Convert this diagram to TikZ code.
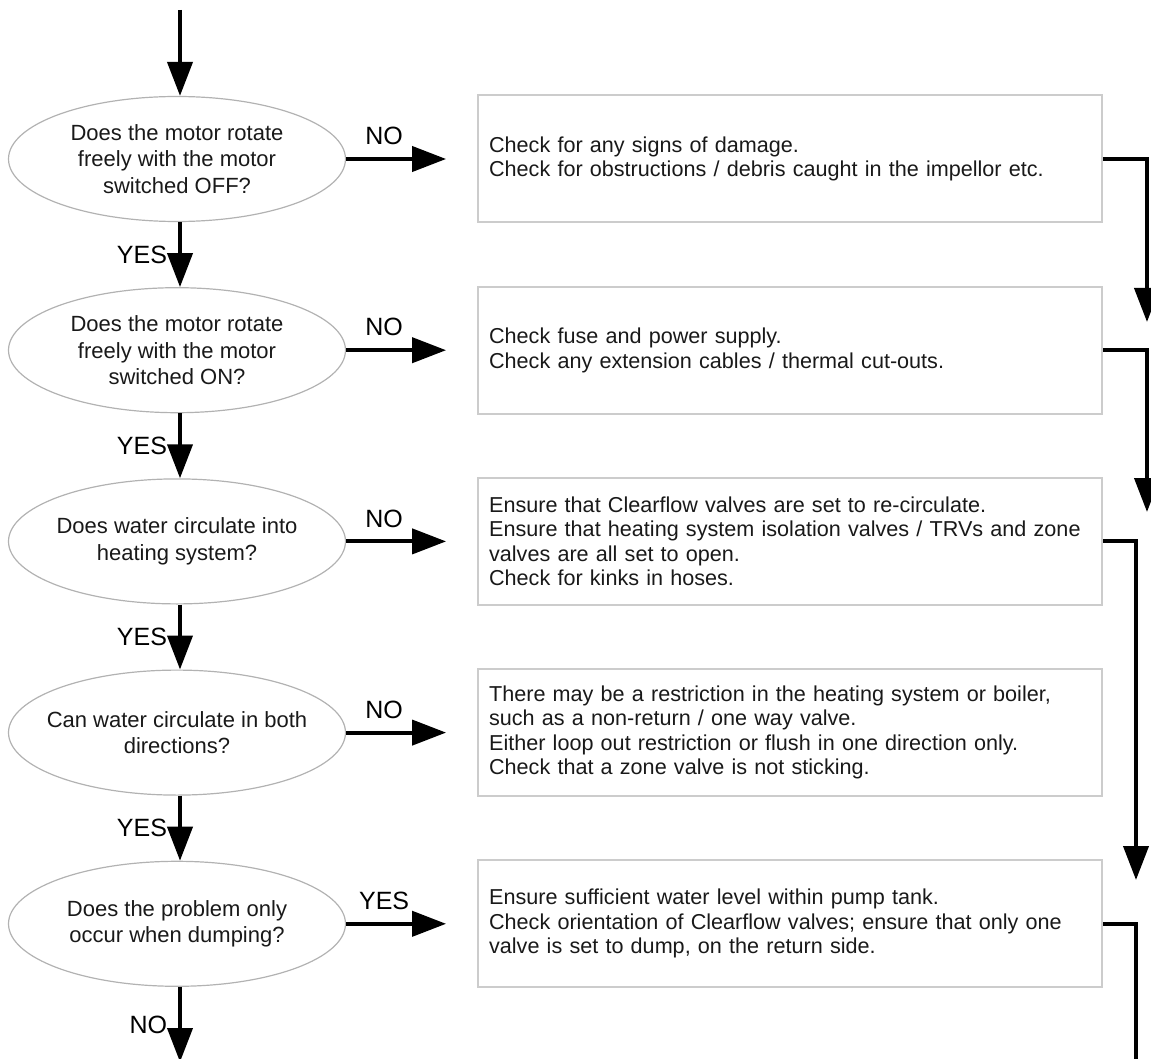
\documentclass[tikz,border=0pt]{standalone}
\usepackage{fontspec}
\setmainfont{Liberation Sans}
\usepackage{tikz}
\usetikzlibrary{arrows.meta,positioning,shapes.geometric}

\begin{document}
\begin{tikzpicture}[
  x=1pt, y=-1pt,
  node distance=65pt and 131pt,
  >={Triangle[length=34pt,width=25pt]},
  font=\fontsize{21.6}{24.5}\selectfont,
  quest/.style={ellipse, draw=gray!60, line width=1.2pt, text=black!90, minimum width=337pt, minimum height=125pt, inner xsep=-45pt, inner ysep=0pt, align=center, font=\fontsize{22}{26.5}\selectfont},
  act/.style={rectangle, draw=gray!40, line width=2pt, text=black!90, minimum height=127pt, text width=602pt, inner xsep=11pt, align=left},
  arr/.style={->, line width=4pt},
  lbl/.style={text=black, inner sep=3pt, font=\fontsize{25}{28}\selectfont}
]
\useasboundingbox (0,0) rectangle (1151,1059);

% Questions
\node[quest] (rotoff) at (177,159) {Does the motor rotate\\freely with the motor\\switched OFF?};
\node[quest, below=of rotoff] (roton) {Does the motor rotate\\freely with the motor\\switched ON?};
\node[quest, below=of roton] (circ) {Does water circulate into\\heating system?};
\node[quest, below=of circ] (both) {Can water circulate in both\\directions?};
\node[quest, below=of both] (dump) {Does the problem only\\occur when dumping?};

% Actions
\node[act, right=of rotoff] (damage) {Check for any signs of damage.\\Check for obstructions / debris caught in the impellor etc.};
\node[act, right=of roton] (fuse) {Check fuse and power supply.\\Check any extension cables / thermal cut-outs.};
\node[act, right=of circ] (valves) {Ensure that Clearflow valves are set to re-circulate.\\Ensure that heating system isolation valves / TRVs and zone\\valves are all set to open.\\Check for kinks in hoses.};
\node[act, right=of both] (restrict) {There may be a restriction in the heating system or boiler,\\such as a non-return / one way valve.\\Either loop out restriction or flush in one direction only.\\Check that a zone valve is not sticking.};
\node[act, right=of dump] (tank) {Ensure sufficient water level within pump tank.\\Check orientation of Clearflow valves; ensure that only one\\valve is set to dump, on the return side.};

% Free ends
\coordinate (start) at (180,10);
\coordinate (finish) at (180,1062);
\coordinate (back1) at (1147,322);
\coordinate (back2) at (1147,512);
\coordinate (back3) at (1136,880);
\coordinate (back5) at (1136,1065);

% Down the left
\draw[arr] (start) -- (rotoff.north -| start);
\draw[arr] (rotoff.south -| start) -- node[lbl, left=8pt] {YES} (roton.north -| start);
\draw[arr] (roton.south -| start) -- node[lbl, left=8pt] {YES} (circ.north -| start);
\draw[arr] (circ.south -| start) -- node[lbl, left=8pt] {YES} (both.north -| start);
\draw[arr] (both.south -| start) -- node[lbl, left=8pt] {YES} (dump.north -| start);
\draw[arr] (dump.south -| start) -- node[lbl, left=8pt] {NO} (finish);

% Across
\draw[arr, shorten >=31pt] (rotoff) -- node[lbl, above=9pt, pos=0.29] {NO} (damage);
\draw[arr, shorten >=31pt] (roton) -- node[lbl, above=9pt, pos=0.29] {NO} (fuse);
\draw[arr, shorten >=31pt] (circ) -- node[lbl, above=9pt, pos=0.29] {NO} (valves);
\draw[arr, shorten >=31pt] (both) -- node[lbl, above=9pt, pos=0.29] {NO} (restrict);
\draw[arr, shorten >=31pt] (dump) -- node[lbl, above=9pt, pos=0.29] {YES} (tank);

% Back to the next step
\draw[arr] (damage.east) -| (back1);
\draw[arr] (fuse.east) -| (back2);
\draw[arr] (valves.east) -| (back3);
\draw[line width=4pt] (tank.east) -| (back5);

\end{tikzpicture}
\end{document}
